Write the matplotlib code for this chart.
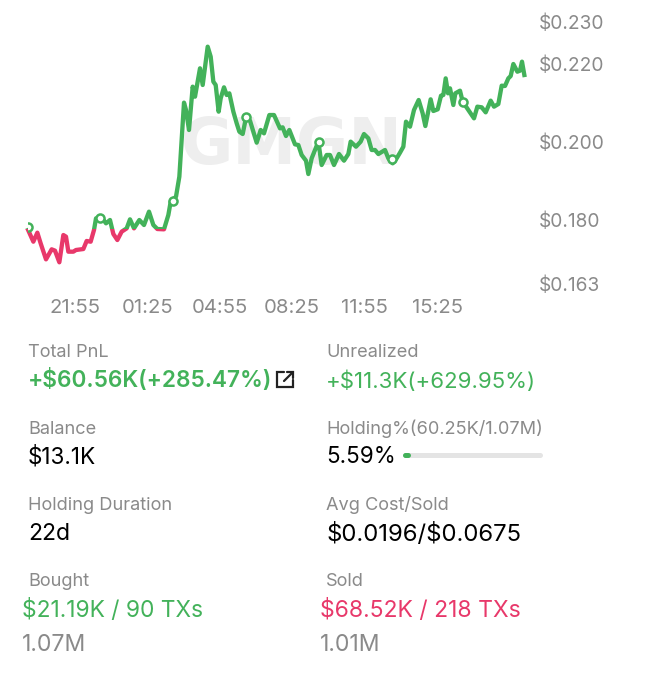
import matplotlib
matplotlib.use('Agg')
import matplotlib.pyplot as plt
from matplotlib.patches import Rectangle
from matplotlib.lines import Line2D

W, H = 652, 680

# minutes since 21:55
times = [-136, -120.8, -109.2, -99.6, -84.1, -67.7, -58, -45.4, -33.8, -26.1, -19.3, -4.8, 2.9, 24.2, 33.8, 45.4,
	55.1, 60.9, 77.3, 89.9, 101.5, 111.2, 122.8, 135.3, 149.9, 159.5, 171.1, 186.6, 200.1, 214.6, 227.2, 238.8,
	258.1, 270.7, 277.5, 292.9, 302.6, 309.4, 316.1, 321.9, 330.6, 341.3, 348, 362.5, 370.3, 384.8, 393.5, 401.2,
	408, 416.6, 422.5, 432.1, 439.8, 447.6, 459.2, 468.9, 476.6, 486.3, 496, 507.5, 526.9, 538.5, 548.1, 563.6,
	577.1, 594.5, 602.2, 611.9, 621.6, 638, 647.7, 657.3, 669.9, 676.7, 686.3, 705.7, 715.3, 729.8, 739.5, 751.1,
	765.6, 780.1, 792.7, 799.4, 814.9, 828.4, 838.1, 850.7, 860.3, 870, 879.7, 899, 908.7, 921.2, 932.8, 942.5,
	952.2, 959.9, 971.5, 983.1, 996.6, 1008.2, 1016, 1031.4, 1039.2, 1051.8, 1061.4, 1068.2, 1075, 1081.7, 1087.5,
	1097.2, 1103, 1116.5, 1124.3, 1140.7, 1157.1, 1166.8, 1179.4, 1191, 1205.5, 1215.1, 1227.7, 1237.4, 1247,
	1256.7, 1263.5, 1271.2, 1282.8, 1290.5, 1296.3, 1303.1]
prices = [.17744, .17444, .17675, .17402, .16991, .17248, .17214, .16915, .17615, .17573, .17188, .17188, .17231, .17256, .17462, .17444,
	.17744, .18043, .18068, .17915, .18000, .17641, .17487, .17701, .17786, .18017, .17786, .18000, .17872, .18214, .17872, .17769,
	.17761, .18128, .18470, .18598, .19111, .20051, .21009, .20821, .20308, .21419, .21162, .21889, .21462, .22444, .22188, .21547,
	.21462, .20778, .21120, .21402, .21205, .21248, .20778, .20479, .20265, .20205, .20632, .20547, .19983, .20308, .20222, .20692,
	.20692, .20350, .20376, .20154, .20308, .19940, .19923, .19667, .19521, .19179, .19581, .20009, .19410, .19667, .19667, .19410,
	.19692, .19521, .19692, .20009, .19880, .20009, .20205, .20094, .19795, .19795, .19692, .19795, .19581, .19453, .19581, .19726,
	.19880, .20521, .20393, .20821, .21077, .20735, .20410, .21094, .20795, .20838, .21188, .21205, .21632, .21248, .21376,
	.20949, .21248, .21316, .21034, .20821, .20607, .20906, .20889, .20761, .21060, .20906, .20974, .21444, .21436,
	.21632, .21692, .22000, .21803, .21829, .22060, .21718]

# hollow trade markers
marker_times = [-136, 72.5, 284.2, 495.9, 707.6, 919.3, 1125]
marker_prices = [.1782, .1806, .1849, .2064, .2000, .1956, .2103]

baseline = .17769

x_ticks = [0, 210, 420, 630, 840, 1050]
x_labels = ['21:55', '01:25', '04:55', '08:25', '11:55', '15:25']
y_ticks = [.16359, .18, .20, .22, .23077]
y_labels = [r'\$0.163', r'\$0.180', r'\$0.200', r'\$0.220', r'\$0.230']

GREEN = '#43b25a'
RED = '#e8386a'
GREY = '#8a8a8a'

plt.rcParams['font.family'] = ['Inter', 'DejaVu Sans']

fig = plt.figure(figsize=(W / 100, H / 100), dpi=100)
fig.patch.set_facecolor('white')


def px_axes(left, top, right, bottom):
	return [left / W, 1 - bottom / H, (right - left) / W, (bottom - top) / H]


ax = fig.add_axes(px_axes(28, 22, 525, 284))
ax.patch.set_alpha(0)
ax.set_xlim(-136.3, 1305)
ax.set_ylim(.16359, .23077)
for s in ax.spines.values():
	s.set_visible(False)

ax.yaxis.tick_right()
ax.set_xticks(x_ticks, x_labels)
ax.set_yticks(y_ticks, y_labels)
ax.tick_params(axis='x', length=0, labelsize=14.6, labelcolor=GREY, pad=11)
ax.tick_params(axis='y', length=0, labelsize=13.8, labelcolor=GREY, pad=10)

# watermark
ax.text(292 / W, 1 - 146 / H, 'GMGN', transform=fig.transFigure, ha='center', va='center', fontsize=46,
	family='DejaVu Sans', weight='bold', color='#eeeeee', zorder=0)

# line is green above the first price and red below it
above = Rectangle((-200, baseline), 1600, .1, transform=ax.transData)
below = Rectangle((-200, baseline - .1), 1600, .1, transform=ax.transData)
l1, = ax.plot(times, prices, color=GREEN, lw=3.1, solid_joinstyle='round', zorder=3)
l2, = ax.plot(times, prices, color=RED, lw=3.1, solid_joinstyle='round', zorder=3)
l1.set_clip_path(above)
l2.set_clip_path(below)
ax.plot(marker_times, marker_prices, ls='none', marker='o', ms=5.8, mfc='white', mec=GREEN, mew=1.8, zorder=4)


def txt(x, y, s, color='black', size=16.2, weight='normal'):
	fig.text(x / W, 1 - (y + 2) / H, s.replace('$', r'\$'), color=color, fontsize=size, fontweight=weight, ha='left', va='center')


LABEL = 13.1
txt(28, 350, 'Total PnL', GREY, LABEL)
txt(28, 379, '+$60.56K(+285.47%)', GREEN, 16.3, 'semibold')
txt(326, 350, 'Unrealized', GREY, LABEL)
txt(326, 379, '+$11.3K(+629.95%)', GREEN, 16)
txt(28, 427, 'Balance', GREY, LABEL)
txt(28, 455, '$13.1K')
txt(326, 427, 'Holding%(60.25K/1.07M)', GREY, LABEL)
txt(326, 455, '5.59%')
txt(28, 503, 'Holding Duration', GREY, LABEL)
txt(28, 532, '22d', size=16.6)
txt(326, 503, 'Avg Cost/Sold', GREY, LABEL)
txt(326, 532, '$0.0196/$0.0675', size=17.2)
txt(28, 580, 'Bought', GREY, LABEL)
txt(22, 608, '$21.19K / 90 TXs', GREEN, 16.4)
txt(22, 643, '1.07M', GREY, 16.6)
txt(326, 580, 'Sold', GREY, LABEL)
txt(320, 608, '$68.52K / 218 TXs', RED, 16.5)
txt(320, 643, '1.01M', GREY, 16.6)


def seg(xs, ys, color, lw):
	fig.add_artist(Line2D([x / W for x in xs], [1 - y / H for y in ys], color=color, lw=lw,
		solid_capstyle='round', solid_joinstyle='miter'))


# progress bar
seg([405, 540], [455, 455], '#e4e4e4', 3.6)
seg([405, 408], [455, 455], GREEN, 3.6)

# share icon
seg([284, 277, 277, 293, 293], [372, 372, 387, 387, 380], '#222222', 1.6)
seg([284, 293], [381, 372], '#222222', 1.6)
seg([287, 293, 293], [372, 372, 378], '#222222', 1.6)

fig.savefig('out.png', dpi=100)
